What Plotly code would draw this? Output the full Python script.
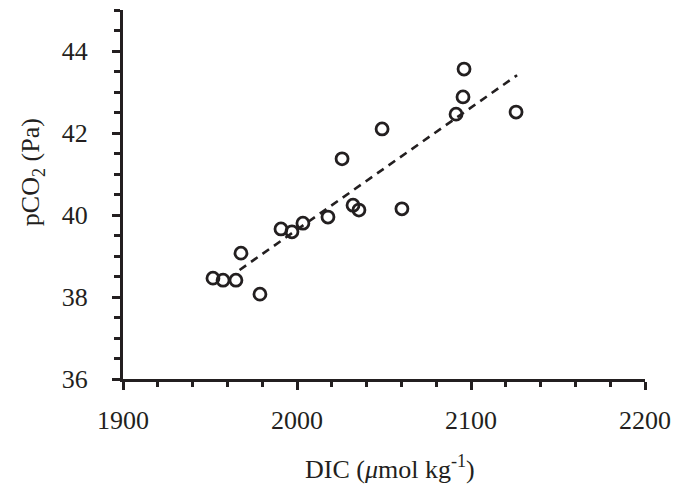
import plotly.graph_objects as go

dic = [1951.7, 1957.5, 1964.9, 1967.8, 1978.7, 1990.8, 1997.1, 2003.4, 2017.8,
       2025.9, 2032.2, 2035.6, 2048.9, 2060.3, 2091.4, 2095.4, 2096.0, 2125.9]
pco2 = [38.46, 38.41, 38.41, 39.07, 38.07, 39.66, 39.59, 39.80, 39.95,
        41.37, 40.24, 40.12, 42.10, 40.15, 42.46, 42.88, 43.56, 42.51]
trend_x = [1967.0, 2126.5]
trend_y = [38.66, 43.41]
x_ticks = [1900, 2000, 2100, 2200]
y_ticks = [36, 38, 40, 42, 44]

INK = "#231f20"
FONT = "Liberation Serif"

fig = go.Figure()
fig.add_trace(go.Scatter(x=trend_x, y=trend_y, mode="lines",
                         line=dict(color=INK, width=2.6, dash="8px,6px"),
                         showlegend=False, hoverinfo="skip"))
fig.add_trace(go.Scatter(x=dic, y=pco2, mode="markers",
                         marker=dict(symbol="circle-open", size=12,
                                     line=dict(color=INK, width=2.8), color=INK),
                         showlegend=False))

# page body has an 8px default margin, so the figure is 8px smaller and offset
fig.update_layout(
    width=680, height=483,
    margin=dict(l=115, r=43, t=2, b=112),
    paper_bgcolor="white", plot_bgcolor="white",
    font=dict(family=FONT, size=26, color=INK),
    xaxis=dict(range=[1900, 2200], tickvals=x_ticks, ticktext=[str(v) for v in x_ticks],
               showgrid=False, zeroline=False, showline=True, linewidth=3, linecolor=INK,
               ticks="outside", ticklen=8, tickwidth=3, tickcolor=INK,
               ticklabelstandoff=8,
               minor=dict(dtick=20, tick0=1900, ticks="outside", ticklen=5, tickwidth=3,
                          tickcolor=INK, showgrid=False)),
    yaxis=dict(range=[36, 45], tickvals=y_ticks, ticktext=[str(v) for v in y_ticks],
               showgrid=False, zeroline=False, showline=True, linewidth=3, linecolor=INK,
               ticks="outside", ticklen=8, tickwidth=3, tickcolor=INK,
               ticklabelstandoff=19,
               minor=dict(dtick=0.5, tick0=36, ticks="outside", ticklen=6, tickwidth=3,
                          tickcolor=INK, showgrid=False)),
    annotations=[
        dict(text="DIC (<i>μ</i>mol kg<sup>-1</sup>)", xref="paper", yref="paper",
             x=0.511, y=-0.241, showarrow=False, xanchor="center", yanchor="middle",
             font=dict(family=FONT, size=26, color=INK)),
        dict(text="pCO<sub>2</sub> (Pa)", xref="paper", yref="paper",
             x=-0.174, y=0.561, showarrow=False, xanchor="center", yanchor="middle",
             textangle=-90, font=dict(family=FONT, size=26, color=INK)),
    ],
)

fig.write_html("out.html")
